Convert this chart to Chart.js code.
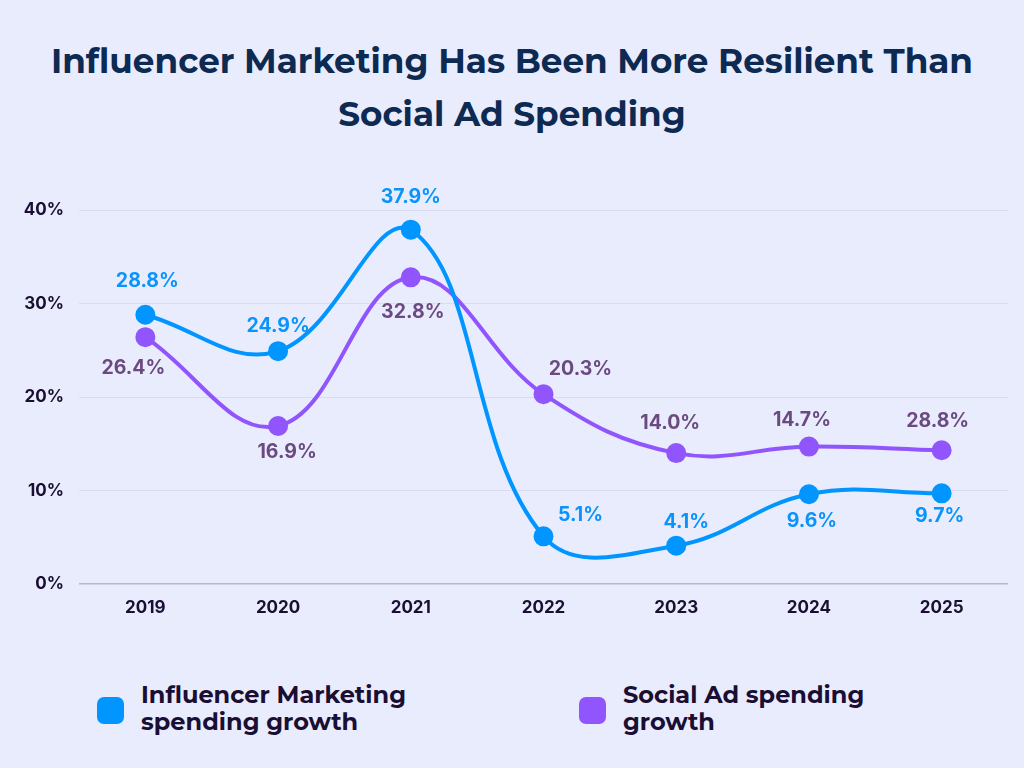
<!DOCTYPE html>
<html>
<head>
<meta charset="utf-8">
<script src="https://cdn.jsdelivr.net/npm/chart.js@4.4.1/dist/chart.umd.min.js"></script>
<style>
  html, body { margin: 0; padding: 0; }
  body { width: 1024px; height: 768px; background: #e9ecfd; position: relative; overflow: hidden; }
  #title {
    position: absolute; left: 0; top: 35px; width: 1024px; text-align: center;
    font-family: Montserrat, "Open Sans", sans-serif; font-weight: 700; font-size: 34.2px;
    line-height: 53px; color: #0d2a52;
  }
  #wrap { position: absolute; left: 0; top: 170px; width: 1024px; height: 460px; }
  .leg { position: absolute; top: 681px; font-family: Montserrat, "Open Sans", sans-serif; font-weight: 700;
    font-size: 24px; line-height: 27px; color: #1a0f33; }
  .leg .sw { position: absolute; left: -44px; top: 16px; width: 27px; height: 27px; border-radius: 7px; }
</style>
</head>
<body>
<div id="title">Influencer Marketing Has Been More Resilient Than<br>Social Ad Spending</div>
<div id="wrap"><canvas id="myChart"></canvas></div>
<div class="leg" style="left:141px"><span class="sw" style="background:#0095ff"></span>Influencer Marketing<br>spending growth</div>
<div class="leg" style="left:623px"><span class="sw" style="background:#9155fd"></span>Social Ad spending<br>growth</div>
<script>
var years = ['2019', '2020', '2021', '2022', '2023', '2024', '2025'];
var influencer = [28.8, 24.9, 37.9, 5.1, 4.1, 9.6, 9.7];
var social = [26.4, 16.9, 32.8, 20.3, 14.0, 14.7, 14.3];
var influencerLabels = ['28.8%', '24.9%', '37.9%', '5.1%', '4.1%', '9.6%', '9.7%'];
var socialLabels = ['26.4%', '16.9%', '32.8%', '20.3%', '14.0%', '14.7%', '28.8%'];
var yTicks = [0, 10, 20, 30, 40];

// label offsets (dx, dy) from each point
var influencerOffsets = [[2, -34], [0, -25], [0, -32], [37, -21], [10, -24], [3, 27], [-2, 23]];
var socialOffsets = [[-12, 31], [9, 26], [2, 35], [37, -25], [-6, -30], [-7, -26], [-4, -29]];

var valueLabels = {
    id: 'valueLabels',
    afterDatasetsDraw: function (chart) {
        var ctx = chart.ctx;
        var sets = [
            { meta: chart.getDatasetMeta(0), text: influencerLabels, off: influencerOffsets, color: '#0a94fb' },
            { meta: chart.getDatasetMeta(1), text: socialLabels, off: socialOffsets, color: '#6b4a80' }
        ];
        ctx.save();
        ctx.font = 'bold 19.5px Inter, "Open Sans", sans-serif';
        ctx.textAlign = 'center';
        ctx.textBaseline = 'middle';
        sets.forEach(function (s) {
            ctx.fillStyle = s.color;
            s.meta.data.forEach(function (pt, i) {
                ctx.fillText(s.text[i], pt.x + s.off[i][0], pt.y + s.off[i][1]);
            });
        });
        ctx.restore();
    }
};

var ctx = document.getElementById('myChart').getContext('2d');
var chart = new Chart(ctx, {
    type: 'line',
    data: {
        labels: years,
        datasets: [
            {
                label: 'Influencer Marketing spending growth',
                data: influencer,
                borderColor: '#0095ff',
                backgroundColor: '#0095ff',
                borderWidth: 4,
                pointRadius: 8,
                pointHoverRadius: 8,
                tension: 0.4,
                fill: false
            },
            {
                label: 'Social Ad spending growth',
                data: social,
                borderColor: '#9155fd',
                backgroundColor: '#9155fd',
                borderWidth: 4,
                pointRadius: 8,
                pointHoverRadius: 8,
                tension: 0.4,
                fill: false
            }
        ]
    },
    options: {
        responsive: true,
        maintainAspectRatio: false,
        animation: false,
        layout: { padding: { top: 40, right: 16, left: 0, bottom: 0 } },
        plugins: {
            legend: { display: false },
            tooltip: { enabled: false }
        },
        scales: {
            x: {
                offset: true,
                grid: { display: false },
                border: { display: false },
                ticks: { color: '#1a0f33', font: { family: 'Inter, "Open Sans", sans-serif', weight: 'bold', size: 17 }, padding: 6 },
                afterFit: function (s) { s.height = 46; }
            },
            y: {
                min: 0,
                max: 40,
                afterBuildTicks: function (s) { s.ticks = yTicks.map(function (v) { return { value: v }; }); },
                grid: {
                    color: function (c) { return c.tick.value === 0 ? '#b9b6cf' : '#d9dcf0'; },
                    lineWidth: function (c) { return c.tick.value === 0 ? 1.5 : 1; },
                    drawTicks: false
                },
                border: { display: false },
                ticks: {
                    color: '#1a0f33',
                    font: { family: 'Inter, "Open Sans", sans-serif', weight: 'bold', size: 17 },
                    padding: 15,
                    callback: function (v) { return v + '%'; }
                },
                afterFit: function (s) { s.width = 79; }
            }
        }
    },
    plugins: [valueLabels]
});
</script>
</body>
</html>
